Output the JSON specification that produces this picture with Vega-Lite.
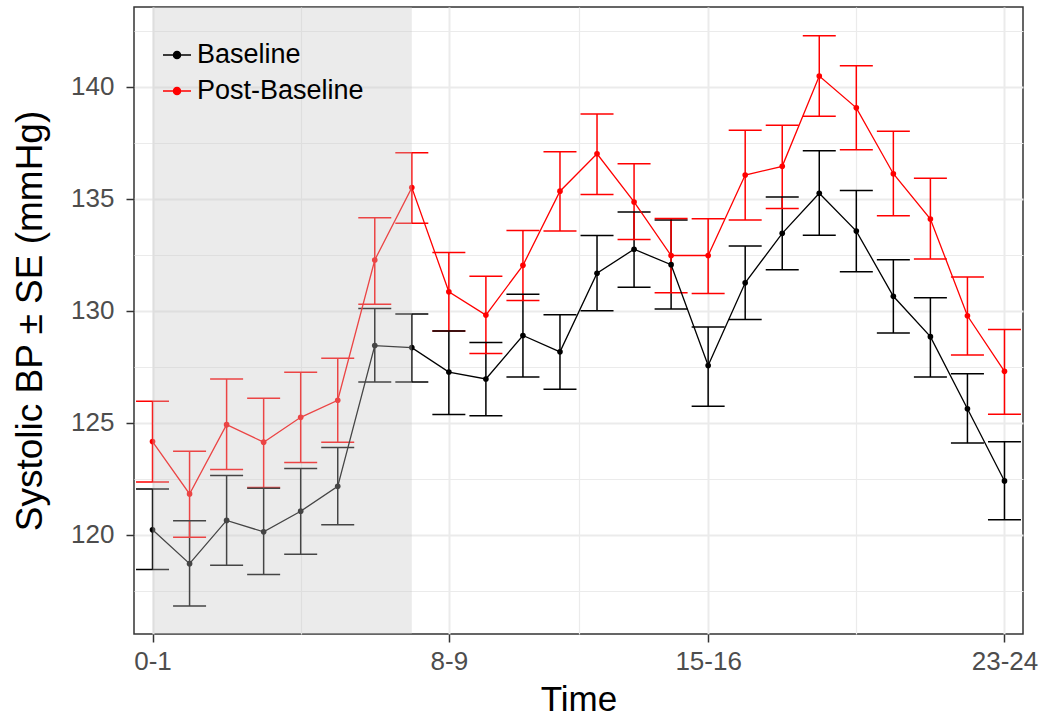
{
  "$schema": "https://vega.github.io/schema/vega-lite/v6.json",
  "width": 889,
  "height": 627,
  "autosize": {"type": "none"},
  "padding": {"left": 134, "top": 7, "right": 24, "bottom": 89},
  "background": "white",
  "config": {
    "view": {"stroke": "#333333", "strokeWidth": 1.5},
    "font": "Liberation Sans",
    "axis": {
      "domain": false,
      "labelFont": "Liberation Sans",
      "titleFont": "Liberation Sans",
      "labelColor": "#4D4D4D",
      "labelFontSize": 26,
      "titleFontSize": 35,
      "titleFontWeight": "normal",
      "titleColor": "#000000",
      "tickColor": "#333333",
      "tickWidth": 1.5,
      "gridColor": "#EBEBEB",
      "labelOverlap": false,
      "labelFlush": false
    }
  },
  "datasets": {
    "bp": [
      {"hour": 0, "group": "Baseline", "mean": 120.22, "lo": 118.45, "hi": 122.04},
      {"hour": 1, "group": "Baseline", "mean": 118.71, "lo": 116.82, "hi": 120.62},
      {"hour": 2, "group": "Baseline", "mean": 120.64, "lo": 118.64, "hi": 122.64},
      {"hour": 3, "group": "Baseline", "mean": 120.13, "lo": 118.22, "hi": 122.07},
      {"hour": 4, "group": "Baseline", "mean": 121.05, "lo": 119.13, "hi": 122.95},
      {"hour": 5, "group": "Baseline", "mean": 122.16, "lo": 120.44, "hi": 123.89},
      {"hour": 6, "group": "Baseline", "mean": 128.44, "lo": 126.82, "hi": 130.09},
      {"hour": 7, "group": "Baseline", "mean": 128.35, "lo": 126.82, "hi": 129.85},
      {"hour": 8, "group": "Baseline", "mean": 127.26, "lo": 125.36, "hi": 129.09},
      {"hour": 9, "group": "Baseline", "mean": 126.95, "lo": 125.31, "hi": 128.58},
      {"hour": 10, "group": "Baseline", "mean": 128.89, "lo": 127.04, "hi": 130.73},
      {"hour": 11, "group": "Baseline", "mean": 128.16, "lo": 126.49, "hi": 129.82},
      {"hour": 12, "group": "Baseline", "mean": 131.67, "lo": 130.0, "hi": 133.35},
      {"hour": 13, "group": "Baseline", "mean": 132.74, "lo": 131.04, "hi": 134.4},
      {"hour": 14, "group": "Baseline", "mean": 132.05, "lo": 130.07, "hi": 134.04},
      {"hour": 15, "group": "Baseline", "mean": 127.55, "lo": 125.73, "hi": 129.27},
      {"hour": 16, "group": "Baseline", "mean": 131.24, "lo": 129.6, "hi": 132.89},
      {"hour": 17, "group": "Baseline", "mean": 133.45, "lo": 131.82, "hi": 135.07},
      {"hour": 18, "group": "Baseline", "mean": 135.24, "lo": 133.36, "hi": 137.13},
      {"hour": 19, "group": "Baseline", "mean": 133.55, "lo": 131.73, "hi": 135.36},
      {"hour": 20, "group": "Baseline", "mean": 130.64, "lo": 129.0, "hi": 132.27},
      {"hour": 21, "group": "Baseline", "mean": 128.84, "lo": 127.04, "hi": 130.58},
      {"hour": 22, "group": "Baseline", "mean": 125.62, "lo": 124.09, "hi": 127.18},
      {"hour": 23, "group": "Baseline", "mean": 122.4, "lo": 120.67, "hi": 124.15},
      {"hour": 0, "group": "Post-Baseline", "mean": 124.16, "lo": 122.35, "hi": 125.96},
      {"hour": 1, "group": "Post-Baseline", "mean": 121.82, "lo": 119.89, "hi": 123.73},
      {"hour": 2, "group": "Post-Baseline", "mean": 124.91, "lo": 122.91, "hi": 126.95},
      {"hour": 3, "group": "Post-Baseline", "mean": 124.13, "lo": 122.11, "hi": 126.09},
      {"hour": 4, "group": "Post-Baseline", "mean": 125.24, "lo": 123.22, "hi": 127.25},
      {"hour": 5, "group": "Post-Baseline", "mean": 126.0, "lo": 124.13, "hi": 127.87},
      {"hour": 6, "group": "Post-Baseline", "mean": 132.26, "lo": 130.29, "hi": 134.14},
      {"hour": 7, "group": "Post-Baseline", "mean": 135.49, "lo": 133.9, "hi": 137.05},
      {"hour": 8, "group": "Post-Baseline", "mean": 130.84, "lo": 129.09, "hi": 132.59},
      {"hour": 9, "group": "Post-Baseline", "mean": 129.8, "lo": 128.09, "hi": 131.53},
      {"hour": 10, "group": "Post-Baseline", "mean": 132.02, "lo": 130.45, "hi": 133.58},
      {"hour": 11, "group": "Post-Baseline", "mean": 135.33, "lo": 133.55, "hi": 137.09},
      {"hour": 12, "group": "Post-Baseline", "mean": 137.0, "lo": 135.18, "hi": 138.78},
      {"hour": 13, "group": "Post-Baseline", "mean": 134.85, "lo": 133.17, "hi": 136.56},
      {"hour": 14, "group": "Post-Baseline", "mean": 132.46, "lo": 130.8, "hi": 134.11},
      {"hour": 15, "group": "Post-Baseline", "mean": 132.46, "lo": 130.76, "hi": 134.1},
      {"hour": 16, "group": "Post-Baseline", "mean": 136.05, "lo": 134.05, "hi": 138.05},
      {"hour": 17, "group": "Post-Baseline", "mean": 136.44, "lo": 134.56, "hi": 138.27},
      {"hour": 18, "group": "Post-Baseline", "mean": 140.47, "lo": 138.67, "hi": 142.27},
      {"hour": 19, "group": "Post-Baseline", "mean": 139.05, "lo": 137.18, "hi": 140.93},
      {"hour": 20, "group": "Post-Baseline", "mean": 136.11, "lo": 134.24, "hi": 138.0},
      {"hour": 21, "group": "Post-Baseline", "mean": 134.09, "lo": 132.31, "hi": 135.91},
      {"hour": 22, "group": "Post-Baseline", "mean": 129.77, "lo": 128.02, "hi": 131.5},
      {"hour": 23, "group": "Post-Baseline", "mean": 127.29, "lo": 125.38, "hi": 129.16}
    ],
    "shade": [{"start": 0, "end": 7}]
  },
  "layer": [
    {
      "data": {"name": "bp"},
      "encoding": {
        "x": {
          "field": "hour",
          "type": "quantitative",
          "scale": {"domain": [-0.5, 23.5], "nice": false, "zero": false},
          "axis": {
            "title": "Time",
            "values": [0, 4, 8, 11.5, 15, 19, 23],
            "labelExpr": "datum.value == 0 ? '0-1' : datum.value == 8 ? '8-9' : datum.value == 15 ? '15-16' : datum.value == 23 ? '23-24' : ''",
            "tickSize": 8,
            "labelPadding": 6,
            "titlePadding": 8,
            "tickOpacity": {"condition": {"test": "datum.value == 0 || datum.value == 8 || datum.value == 15 || datum.value == 23", "value": 1}, "value": 0},
            "gridWidth": {"condition": {"test": "datum.value == 0 || datum.value == 8 || datum.value == 15 || datum.value == 23", "value": 2}, "value": 1.2}
          }
        },
        "color": {
          "field": "group",
          "type": "nominal",
          "scale": {"domain": ["Baseline", "Post-Baseline"], "range": ["#000000", "#FF0000"]},
          "legend": {
            "title": null,
            "orient": "none",
            "legendX": 28,
            "legendY": 33,
            "padding": 0,
            "labelFont": "Liberation Sans",
            "labelFontSize": 27,
            "labelColor": "#000000",
            "labelOffset": 5,
            "labelLimit": 0,
            "rowPadding": 8,
            "symbolType": "M-1,0H1M-0.25,0A0.25,0.25,0,1,0,0.25,0A0.25,0.25,0,1,0,-0.25,0Z",
            "symbolSize": 784,
            "symbolStrokeWidth": 1.5,
            "encode": {
              "symbols": {
                "update": {
                  "stroke": {"scale": "color", "field": "value"},
                  "fill": {"scale": "color", "field": "value"},
                  "strokeWidth": {"value": 1.5},
                  "size": {"value": 784},
                  "opacity": {"value": 1}
                }
              }
            }
          }
        }
      },
      "layer": [
        {
          "mark": {"type": "rule", "strokeWidth": 1.5},
          "encoding": {
            "y": {
              "field": "lo",
              "type": "quantitative",
              "scale": {"domain": [115.57, 143.55], "nice": false, "zero": false},
              "axis": {
                "title": "Systolic BP ± SE (mmHg)",
                "titleFontSize": 37,
                "values": [117.5, 120, 122.5, 125, 127.5, 130, 132.5, 135, 137.5, 140, 142.5],
                "labelExpr": "datum.value % 5 == 0 ? datum.label : ''",
                "tickSize": 8,
                "labelPadding": 12,
                "titlePadding": 21,
                "tickOpacity": {"condition": {"test": "datum.value % 5 == 0", "value": 1}, "value": 0},
                "gridWidth": {"condition": {"test": "datum.value % 5 == 0", "value": 2}, "value": 1.2}
              }
            },
            "y2": {"field": "hi"}
          }
        },
        {
          "mark": {"type": "tick", "orient": "horizontal", "size": 33, "thickness": 1.5, "opacity": 1},
          "encoding": {"y": {"field": "lo", "type": "quantitative"}}
        },
        {
          "mark": {"type": "tick", "orient": "horizontal", "size": 33, "thickness": 1.5, "opacity": 1},
          "encoding": {"y": {"field": "hi", "type": "quantitative"}}
        },
        {
          "mark": {"type": "line", "strokeWidth": 1.3},
          "encoding": {"y": {"field": "mean", "type": "quantitative"}}
        },
        {
          "mark": {"type": "point", "filled": true, "size": 32, "opacity": 1},
          "encoding": {"y": {"field": "mean", "type": "quantitative"}}
        }
      ]
    },
    {
      "data": {"name": "shade"},
      "mark": {"type": "rect", "color": "#C6C6C6", "opacity": 0.35},
      "encoding": {
        "x": {"field": "start", "type": "quantitative"},
        "x2": {"field": "end"}
      }
    }
  ]
}
